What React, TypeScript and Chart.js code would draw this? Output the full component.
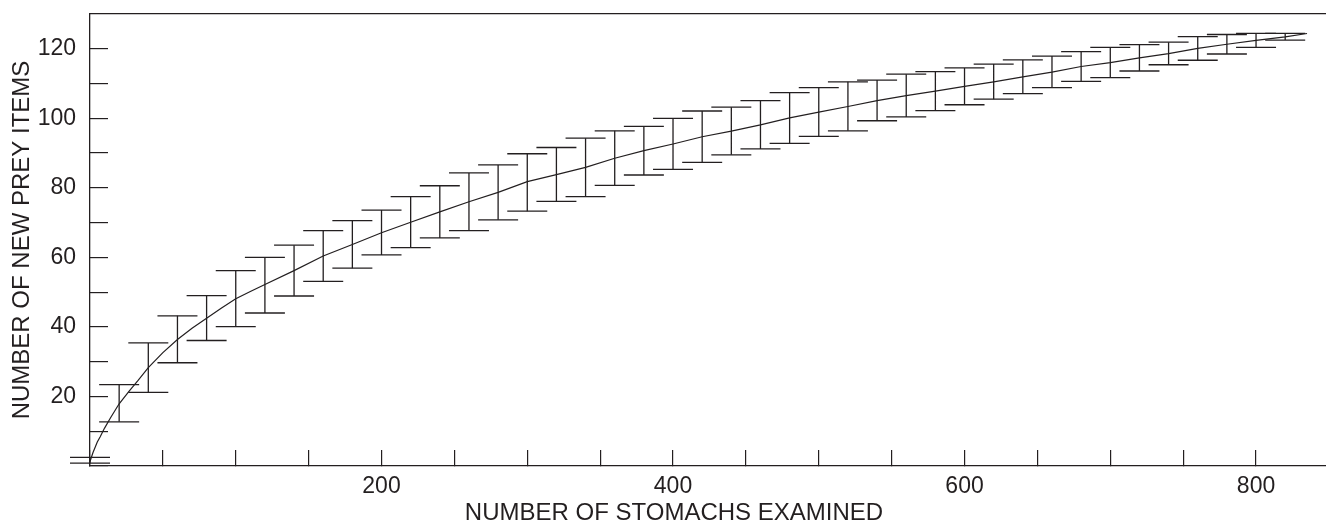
import React, { useEffect, useRef } from "react";
import { Chart, registerables } from "chart.js";

Chart.register(...registerables);

// Error-bar positions (number of stomachs examined)
const barStomachs = [
  0, 20, 40, 60, 80, 100, 120, 140, 160, 180, 200, 220, 240, 260, 280, 300, 320, 340, 360, 380, 400,
  420, 440, 460, 480, 500, 520, 540, 560, 580, 600, 620, 640, 660, 680, 700, 720, 740, 760, 780, 800, 820,
];
// Upper end of each error bar
const barUpper = [
  2.5, 23.4, 35.4, 43.2, 49.0, 56.2, 60.0, 63.5, 67.7, 70.6, 73.6, 77.5, 80.6, 84.3, 86.6, 89.8, 91.6, 94.3, 96.4, 97.7, 100.0,
  102.1, 103.2, 105.1, 107.4, 108.8, 110.5, 111.0, 112.7, 113.4, 114.5, 115.6, 116.8, 117.9, 119.2, 120.4, 121.2, 121.9, 123.5, 124.1, 124.4, 124.4,
];
// Lower end of each error bar
const barLower = [
  0.8, 12.7, 21.2, 29.7, 36.1, 40.1, 44.0, 48.9, 53.1, 56.9, 60.7, 62.8, 65.6, 67.7, 70.8, 73.3, 76.1, 77.5, 80.7, 83.7, 85.3,
  87.3, 89.5, 91.2, 92.8, 94.8, 96.4, 99.3, 100.4, 102.2, 103.9, 105.5, 107.1, 108.8, 110.6, 111.7, 113.6, 115.4, 116.7, 118.5, 120.4, 122.5,
];
// Mean accumulation curve
const curveStomachs = [
  0, 2, 5, 7, 10, 14, 20, 27, 33, 40, 50, 60, 70, 80, 90, 100, 110, 120, 140, 160, 180, 200, 220, 240, 260, 280, 300,
  320, 340, 360, 380, 400, 420, 440, 460, 480, 500, 520, 540, 560, 580, 600, 620, 640, 660, 680, 700, 720, 740, 760,
  780, 800, 820, 835,
];
const curveItems = [
  1.3, 3.8, 6.9, 8.4, 10.9, 13.8, 17.9, 21.6, 24.6, 28.3, 32.6, 36.4, 39.6, 42.5, 45.4, 48.1, 50.2, 52.2, 56.2, 60.4, 63.7, 67.1, 70.1, 73.1, 76.0, 78.7, 81.8,
  83.8, 85.9, 88.5, 90.7, 92.6, 94.7, 96.3, 98.1, 100.1, 101.8, 103.4, 105.1, 106.5, 107.8, 109.2, 110.5, 111.9, 113.3, 114.9, 116.0, 117.4, 118.6, 120.1,
  121.3, 122.4, 123.4, 124.4,
];
// Axis tick marks and labelled ticks
const xTickValues = [0, 50, 100, 150, 200, 250, 300, 350, 400, 450, 500, 550, 600, 650, 700, 750, 800];
const xLabelValues = [200, 400, 600, 800];
const yTickValues = [0, 10, 20, 30, 40, 50, 60, 70, 80, 90, 100, 110, 120];
const yLabelValues = [20, 40, 60, 80, 100, 120];
const xAxisTitle = "NUMBER OF STOMACHS EXAMINED";
const yAxisTitle = "NUMBER OF NEW PREY ITEMS";

const INK = "#231f20";
const FONT = "'Liberation Sans', Arial, Helvetica, sans-serif";

const zeroPadding = (s: any) => {
  s.paddingTop = 0;
  s.paddingBottom = 0;
  s.paddingLeft = 0;
  s.paddingRight = 0;
};

export default function App() {
  const ref = useRef<HTMLCanvasElement>(null);

  useEffect(() => {
    document.body.style.margin = "0";
    document.body.style.overflow = "hidden";
    const whiskers: { x: number; y: number | null }[] = [];
    barStomachs.forEach((x, i) => {
      whiskers.push({ x, y: barLower[i] }, { x, y: barUpper[i] }, { x, y: null });
    });
    const curve = curveStomachs.map((x, i) => ({ x, y: curveItems[i] }));

    const tickFont = { family: FONT, size: 23, lineHeight: 1 };
    const titleFont = { family: FONT, size: 24, lineHeight: 1, weight: "normal" as const };

    const chart = new Chart(ref.current!, {
      type: "scatter",
      data: {
        datasets: [
          {
            label: "range",
            data: whiskers as any,
            showLine: true,
            spanGaps: false,
            borderColor: INK,
            borderWidth: 1.3,
            pointStyle: "line",
            pointRadius: 20,
            pointHoverRadius: 20,
            pointBorderWidth: 1.3,
            pointBorderColor: INK,
            pointBackgroundColor: INK,
            clip: false as any,
          },
          {
            label: "mean",
            data: curve,
            showLine: true,
            borderColor: INK,
            borderWidth: 1.2,
            pointRadius: 0,
            tension: 0,
            clip: false as any,
          },
        ],
      },
      options: {
        animation: false,
        responsive: false,
        events: [],
        layout: { autoPadding: false, padding: { left: 22, right: 0, top: 0, bottom: 0 } },
        plugins: {
          legend: { display: false },
          tooltip: { enabled: false },
          title: {
            display: true,
            text: xAxisTitle,
            position: "bottom",
            align: "center",
            fullSize: true,
            color: INK,
            font: titleFont,
            padding: { top: 0, bottom: -3.5 },
          },
        },
        scales: {
          x: {
            type: "linear",
            position: "bottom",
            min: 0,
            max: 848,
            bounds: "data",
            afterBuildTicks: (s: any) => {
              s.ticks = xTickValues.map((value) => ({ value }));
            },
            afterFit: (s: any) => {
              s.height = 35.5;
              zeroPadding(s);
            },
            border: { display: true, color: INK, width: 1.3 },
            grid: { drawOnChartArea: false, drawTicks: true, tickLength: -16, color: INK, lineWidth: 1.2 },
            ticks: {
              autoSkip: false,
              maxRotation: 0,
              minRotation: 0,
              padding: 24.8,
              color: INK,
              font: tickFont,
              callback: (v: any) => (xLabelValues.includes(Number(v)) ? String(v) : ""),
            },
          },
          x2: {
            type: "linear",
            position: "top",
            min: 0,
            max: 848,
            afterFit: (s: any) => {
              s.height = 14;
              zeroPadding(s);
            },
            border: { display: true, color: INK, width: 1.3 },
            grid: { drawOnChartArea: false, drawTicks: false },
            ticks: { display: false },
          },
          y: {
            type: "linear",
            position: "left",
            min: 0,
            max: 130,
            bounds: "data",
            afterBuildTicks: (s: any) => {
              s.ticks = yTickValues.map((value) => ({ value }));
            },
            afterFit: (s: any) => {
              s.width = 68;
              zeroPadding(s);
            },
            border: { display: true, color: INK, width: 1.3 },
            grid: { drawOnChartArea: false, drawTicks: true, tickLength: -18, color: INK, lineWidth: 1.2 },
            title: {
              display: true,
              text: yAxisTitle,
              color: INK,
              font: titleFont,
              padding: { top: -12, bottom: 0 },
            },
            ticks: {
              autoSkip: false,
              padding: 32,
              color: INK,
              font: tickFont,
              callback: (v: any) => (yLabelValues.includes(Number(v)) ? String(v) : ""),
            },
          },
        },
      } as any,
    });
    return () => chart.destroy();
  }, []);

  return <canvas ref={ref} width={1326} height={522} style={{ display: "block" }} />;
}
